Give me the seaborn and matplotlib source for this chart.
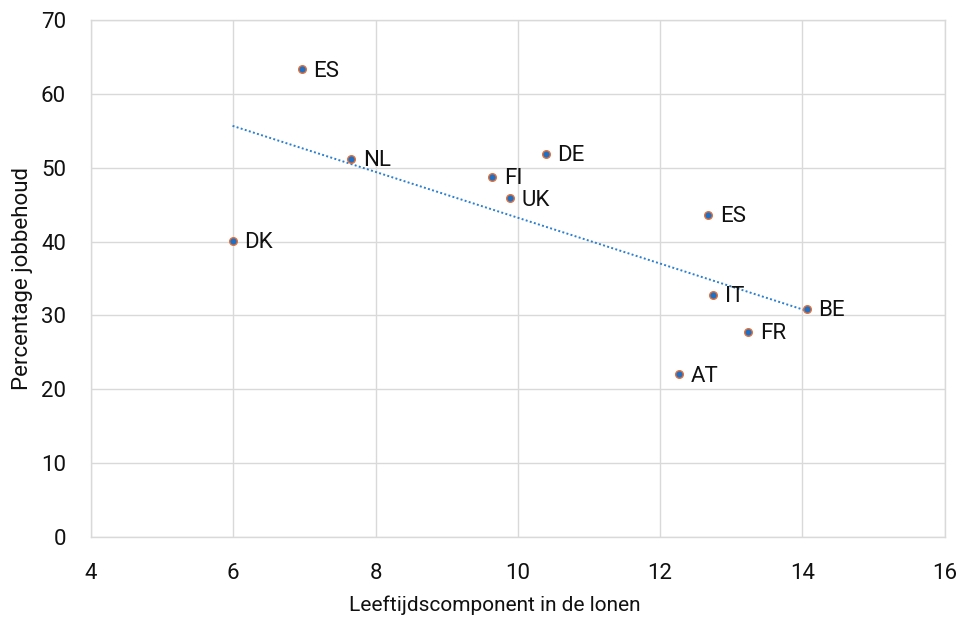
import matplotlib
matplotlib.use("Agg")
import matplotlib.pyplot as plt
import seaborn as sns
import pandas as pd

# Landen met leeftijdscomponent in de lonen en percentage jobbehoud
countries = ["ES", "NL", "DK", "FI", "UK", "DE", "ES", "IT", "BE", "FR", "AT"]
age_component = [6.96, 7.66, 5.99, 9.64, 9.89, 10.39, 12.68, 12.75, 14.06, 13.24, 12.26]
job_retention = [63.3, 51.2, 40.1, 48.8, 45.9, 51.9, 43.6, 32.8, 30.9, 27.8, 22.0]

x_ticks = [4, 6, 8, 10, 12, 14, 16]
y_ticks = [0, 10, 20, 30, 40, 50, 60, 70]

df = pd.DataFrame({"land": countries, "x": age_component, "y": job_retention})

sns.set_theme(style="white")
plt.rcParams["font.family"] = ["Roboto", "DejaVu Sans"]

fig = plt.figure(figsize=(9.58, 6.22), dpi=100)
ax = fig.add_axes([0.095, 0.1367, 0.891, 0.8313])

blue = "#1f6fc4"
orange = "#e0703a"

sns.regplot(
    data=df, x="x", y="y", ax=ax, ci=None, truncate=True,
    scatter_kws=dict(s=30, color=blue, edgecolor=orange, linewidths=1.0, alpha=1, zorder=3),
    line_kws=dict(color="#2a7fcf", linestyle=(0, (1, 1.2)), linewidth=1.4, zorder=2),
)

for _, r in df.iterrows():
    ax.annotate(r["land"], (r["x"], r["y"]), xytext=(8.5, -1.5), textcoords="offset points",
                ha="left", va="center", fontsize=16, color="#111111")

ax.set_xlim(4, 16)
ax.set_ylim(0, 70)
ax.set_xticks(x_ticks)
ax.set_yticks(y_ticks)
ax.grid(True, color="#d9d9d9", linewidth=1.0)
ax.set_axisbelow(True)
for sp in ax.spines.values():
    sp.set_color("#d9d9d9")
    sp.set_linewidth(1.0)

ax.tick_params(axis="both", length=0, labelsize=16, labelcolor="#111111")
ax.tick_params(axis="x", pad=19)
ax.tick_params(axis="y", pad=18)
ax.set_xlabel("Leeftijdscomponent in de lonen", fontsize=15, color="#111111")
ax.set_ylabel("Percentage jobbehoud", fontsize=16, color="#111111", labelpad=6)
ax.xaxis.set_label_coords(0.4725, -0.114)

fig.savefig("out.png", dpi=100)
